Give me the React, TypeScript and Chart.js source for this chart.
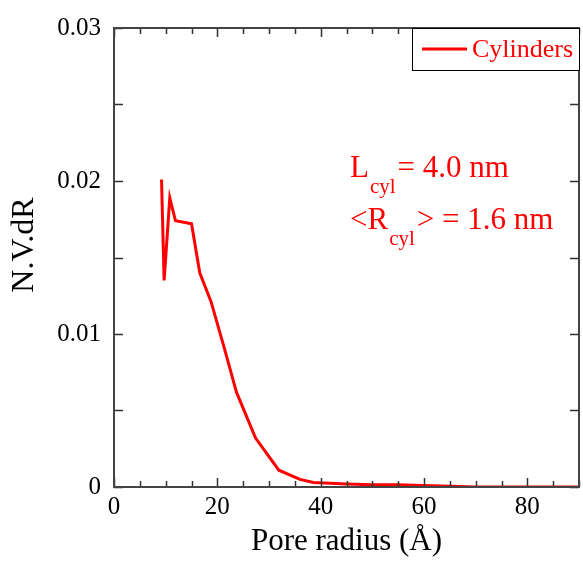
import React, { useEffect, useRef } from "react";
import { Chart, registerables } from "chart.js";

Chart.register(...registerables);

const seriesLabel = "Cylinders";
const poreRadius = [9.2, 9.7, 10.8, 11.9, 15.0, 16.6, 18.8, 21.5, 23.7, 27.4, 31.9, 36.0, 38.6, 45, 50, 55, 60, 65, 70, 75, 80, 85, 90];
const nvdr = [0.0201, 0.0135, 0.0189, 0.0174, 0.0172, 0.0140, 0.0121, 0.0089, 0.0062, 0.0032, 0.0011, 0.0005, 0.0003, 0.0002, 0.00015, 0.00015, 0.0001, 0.00005, 0, 0, 0, 0, 0];
const xTickValues = [0, 20, 40, 60, 80];
const yTickValues = [0, 0.01, 0.02, 0.03];
const annotationLine1 = ["L", "cyl", "= 4.0 nm"];
const annotationLine2 = ["<R", "cyl", "> = 1.6 nm"];

const FONT = "'Liberation Serif', 'Times New Roman', serif";
const RED = "#ff0000";

const decorPlugin = {
  id: "decor",
  afterDraw(chart: any) {
    const ctx = chart.ctx;
    const { left, right, top, bottom } = chart.chartArea;
    const xs = chart.scales.x;
    const ys = chart.scales.y;
    ctx.save();
    // ticks
    ctx.strokeStyle = "#333";
    ctx.lineWidth = 1.5;
    ctx.beginPath();
    for (let i = 0; i <= 18; i++) {
      const v = i * 5;
      const px = Math.round(xs.getPixelForValue(v)) + 0.5;
      const len = v % 20 === 0 ? 9 : 6;
      ctx.moveTo(px, bottom);
      ctx.lineTo(px, bottom - len);
      ctx.moveTo(px, top);
      ctx.lineTo(px, top + len);
    }
    for (let i = 0; i <= 6; i++) {
      const v = i * 0.005;
      const py = Math.round(ys.getPixelForValue(v)) + 0.5;
      ctx.moveTo(left, py);
      ctx.lineTo(left + 9, py);
      ctx.moveTo(right, py);
      ctx.lineTo(right - 9, py);
    }
    ctx.stroke();
    // frame
    ctx.strokeStyle = "#444";
    ctx.lineWidth = 2;
    ctx.strokeRect(left, top, right - left, bottom - top);

    // y title
    ctx.save();
    ctx.translate(25, 245);
    ctx.rotate(-Math.PI / 2);
    ctx.fillStyle = "#000";
    ctx.font = `32px ${FONT}`;
    ctx.textAlign = "center";
    ctx.textBaseline = "middle";
    ctx.fillText("N.V.dR", 0, 0);
    ctx.restore();

    // legend
    const lx = 412, ly = top, lw = right - 412, lh = 42;
    ctx.fillStyle = "#fff";
    ctx.fillRect(lx, ly, lw, lh);
    ctx.strokeStyle = "#000";
    ctx.lineWidth = 1;
    ctx.strokeRect(lx + 0.5, ly + 0.5, lw, lh);
    ctx.strokeStyle = RED;
    ctx.lineWidth = 3;
    ctx.beginPath();
    ctx.moveTo(422, ly + 21);
    ctx.lineTo(467, ly + 21);
    ctx.stroke();
    ctx.fillStyle = RED;
    ctx.font = `26px ${FONT}`;
    ctx.textAlign = "left";
    ctx.textBaseline = "middle";
    ctx.fillText(chart.data.datasets[0].label, 472, ly + 22);

    // annotation
    const drawSub = (parts: string[], x: number, base: number) => {
      ctx.textBaseline = "alphabetic";
      ctx.font = `31px ${FONT}`;
      ctx.fillText(parts[0], x, base);
      x += ctx.measureText(parts[0]).width + 1;
      ctx.font = `21px ${FONT}`;
      ctx.fillText(parts[1], x, base + 16);
      x += ctx.measureText(parts[1]).width + 2;
      ctx.font = `31px ${FONT}`;
      ctx.fillText(parts[2], x, base);
    };
    ctx.fillStyle = RED;
    drawSub(annotationLine1, 350, 177);
    drawSub(annotationLine2, 350, 229);
    ctx.restore();
  },
};

export default function App() {
  const ref = useRef<HTMLCanvasElement>(null);
  useEffect(() => {
    if (!ref.current) return;
    const chart = new Chart(ref.current, {
      type: "line",
      data: {
        datasets: [
          {
            label: seriesLabel,
            data: poreRadius.map((x, i) => ({ x, y: nvdr[i] })),
            borderColor: RED,
            backgroundColor: RED,
            borderWidth: 3,
            pointRadius: 0,
            tension: 0,
          },
        ],
      },
      options: {
        animation: false,
        responsive: false,
        devicePixelRatio: 1,
        layout: { padding: { top: 24, right: 4, left: 0, bottom: 0 } },
        plugins: { legend: { display: false }, tooltip: { enabled: false } },
        scales: {
          x: {
            type: "linear",
            min: 0,
            max: 90,
            afterBuildTicks: (s: any) => {
              s.ticks = xTickValues.map((v) => ({ value: v }));
            },
            afterFit: (s: any) => {
              s.height = 75;
            },
            grid: { display: false, drawTicks: false },
            border: { display: false },
            ticks: {
              padding: 5,
              color: "#000",
              font: { family: FONT, size: 25 },
              maxRotation: 0,
              callback: (v: any) => String(v),
            },
            title: {
              display: true,
              text: "Pore radius (Å)",
              color: "#000",
              font: { family: FONT, size: 31 },
              padding: { top: 0, bottom: 2 },
            },
          },
          y: {
            type: "linear",
            min: 0,
            max: 0.03,
            afterBuildTicks: (s: any) => {
              s.ticks = yTickValues.map((v) => ({ value: v }));
            },
            afterFit: (s: any) => {
              s.width = 114;
            },
            grid: { display: false, drawTicks: false },
            border: { display: false },
            ticks: {
              padding: 13,
              color: "#000",
              font: { family: FONT, size: 25 },
              callback: (v: any) => (v === 0 ? "0" : Number(v).toFixed(2)),
            },
          },
        },
      },
      plugins: [decorPlugin],
    } as any);
    return () => chart.destroy();
  }, []);
  return (
    <div style={{ position: "absolute", left: 0, top: 0, width: 583, height: 562 }}>
      <canvas ref={ref} width={583} height={562} />
    </div>
  );
}
